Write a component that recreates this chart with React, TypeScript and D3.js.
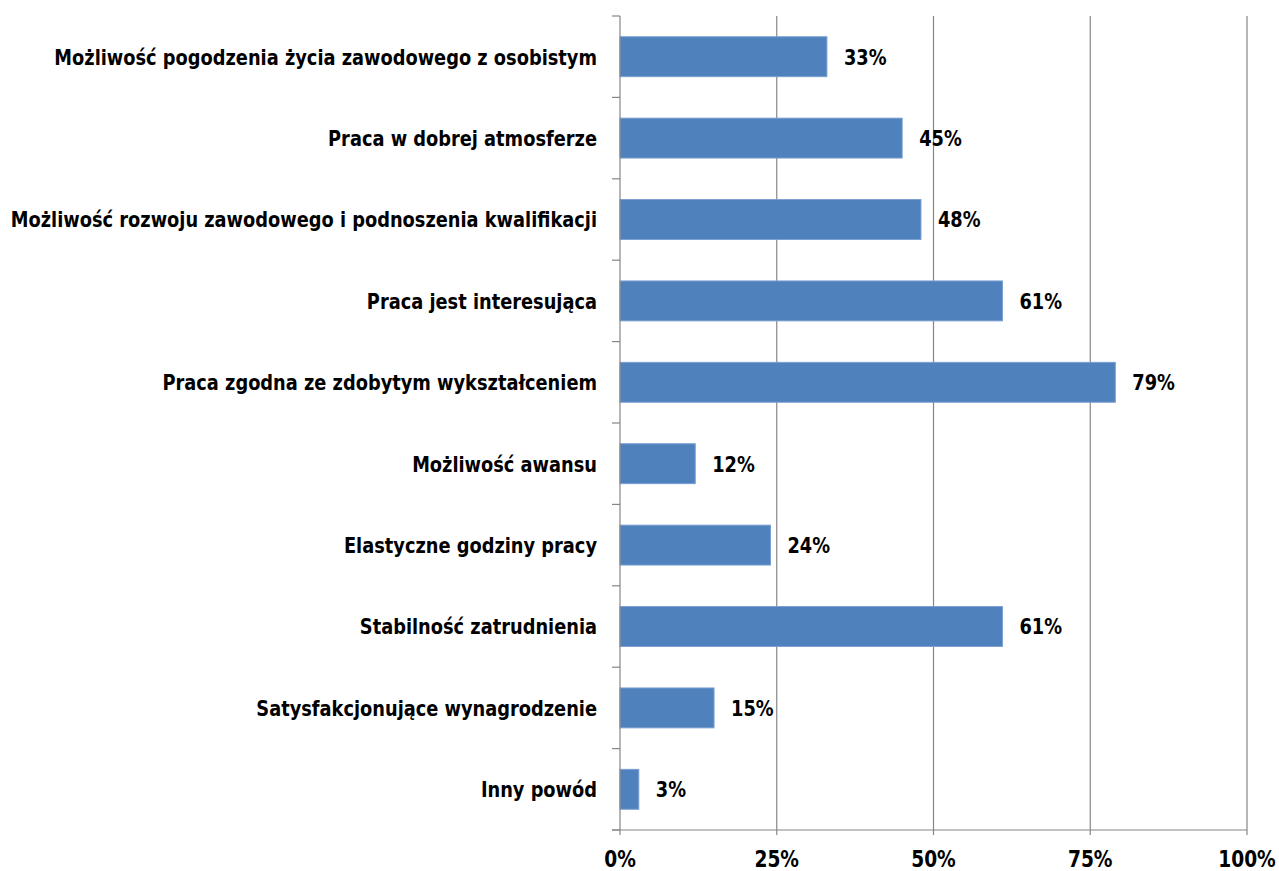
import React from "react";
import * as d3 from "d3";

const categories = [
  "Możliwość pogodzenia życia zawodowego z osobistym",
  "Praca w dobrej atmosferze",
  "Możliwość rozwoju zawodowego i podnoszenia kwalifikacji",
  "Praca jest interesująca",
  "Praca zgodna ze zdobytym wykształceniem",
  "Możliwość awansu",
  "Elastyczne godziny pracy",
  "Stabilność zatrudnienia",
  "Satysfakcjonujące wynagrodzenie",
  "Inny powód",
];
const values = [33, 45, 48, 61, 79, 12, 24, 61, 15, 3];
const xTicks = [0, 25, 50, 75, 100];

const W = 1279;
const H = 871;
const left = 620;
const right = 1247;
const top = 16;
const bottom = 830;
const FONT = "'DejaVu Sans Condensed', 'Liberation Sans Narrow', sans-serif";
const SX = 0.9;

function T(props: { x: number; y: number; anchor?: string; size: number; children: React.ReactNode; dy?: string }) {
  return (
    <text
      transform={`translate(${props.x},${props.y}) scale(${SX},1)`}
      dy={props.dy}
      textAnchor={props.anchor || "start"}
      fontSize={props.size}
      fontWeight="bold"
      fill="#000"
    >
      {props.children}
    </text>
  );
}

export default function App() {
  const x = d3.scaleLinear().domain([0, 100]).range([left, right]);
  const y = d3.scaleBand().domain(categories).range([top, bottom]).paddingInner(0.51).paddingOuter(0.255);
  const band = y.step();
  return (
    <svg width={W} height={H} style={{ position: "absolute", left: 0, top: 0 }} fontFamily={FONT}>
      <rect width={W} height={H} fill="#fff" />
      {xTicks.filter((t) => t > 0).map((t) => (
        <line key={t} x1={x(t)} x2={x(t)} y1={top} y2={bottom} stroke="#868686" strokeWidth={1.2} />
      ))}
      {categories.map((c, i) => (
        <rect
          key={c}
          x={x(0)}
          y={y(c)!}
          width={x(values[i]) - x(0)}
          height={y.bandwidth()}
          fill="#4F81BD"
          stroke="#7A9FD0"
          strokeWidth={1}
        />
      ))}
      <line x1={left} x2={left} y1={top} y2={bottom} stroke="#868686" strokeWidth={1.2} />
      {d3.range(categories.length + 1).map((i) => (
        <line key={i} x1={left - 8} x2={left} y1={top + i * band} y2={top + i * band} stroke="#868686" strokeWidth={1.2} />
      ))}
      <line x1={left - 8} x2={right} y1={bottom} y2={bottom} stroke="#868686" strokeWidth={1.2} />
      {xTicks.map((t) => (
        <line key={t} x1={x(t)} x2={x(t)} y1={bottom} y2={bottom + 5} stroke="#868686" strokeWidth={1.2} />
      ))}
      {categories.map((c) => (
        <T key={c} x={597} y={y(c)! + y.bandwidth() / 2} dy="0.36em" anchor="end" size={22}>
          {c}
        </T>
      ))}
      {categories.map((c, i) => (
        <T key={c + "v"} x={x(values[i]) + 17} y={y(c)! + y.bandwidth() / 2} dy="0.36em" size={22}>
          {values[i]}%
        </T>
      ))}
      {xTicks.map((t) => (
        <T key={t} x={x(t)} y={867} anchor="middle" size={23}>
          {t}%
        </T>
      ))}
    </svg>
  );
}
